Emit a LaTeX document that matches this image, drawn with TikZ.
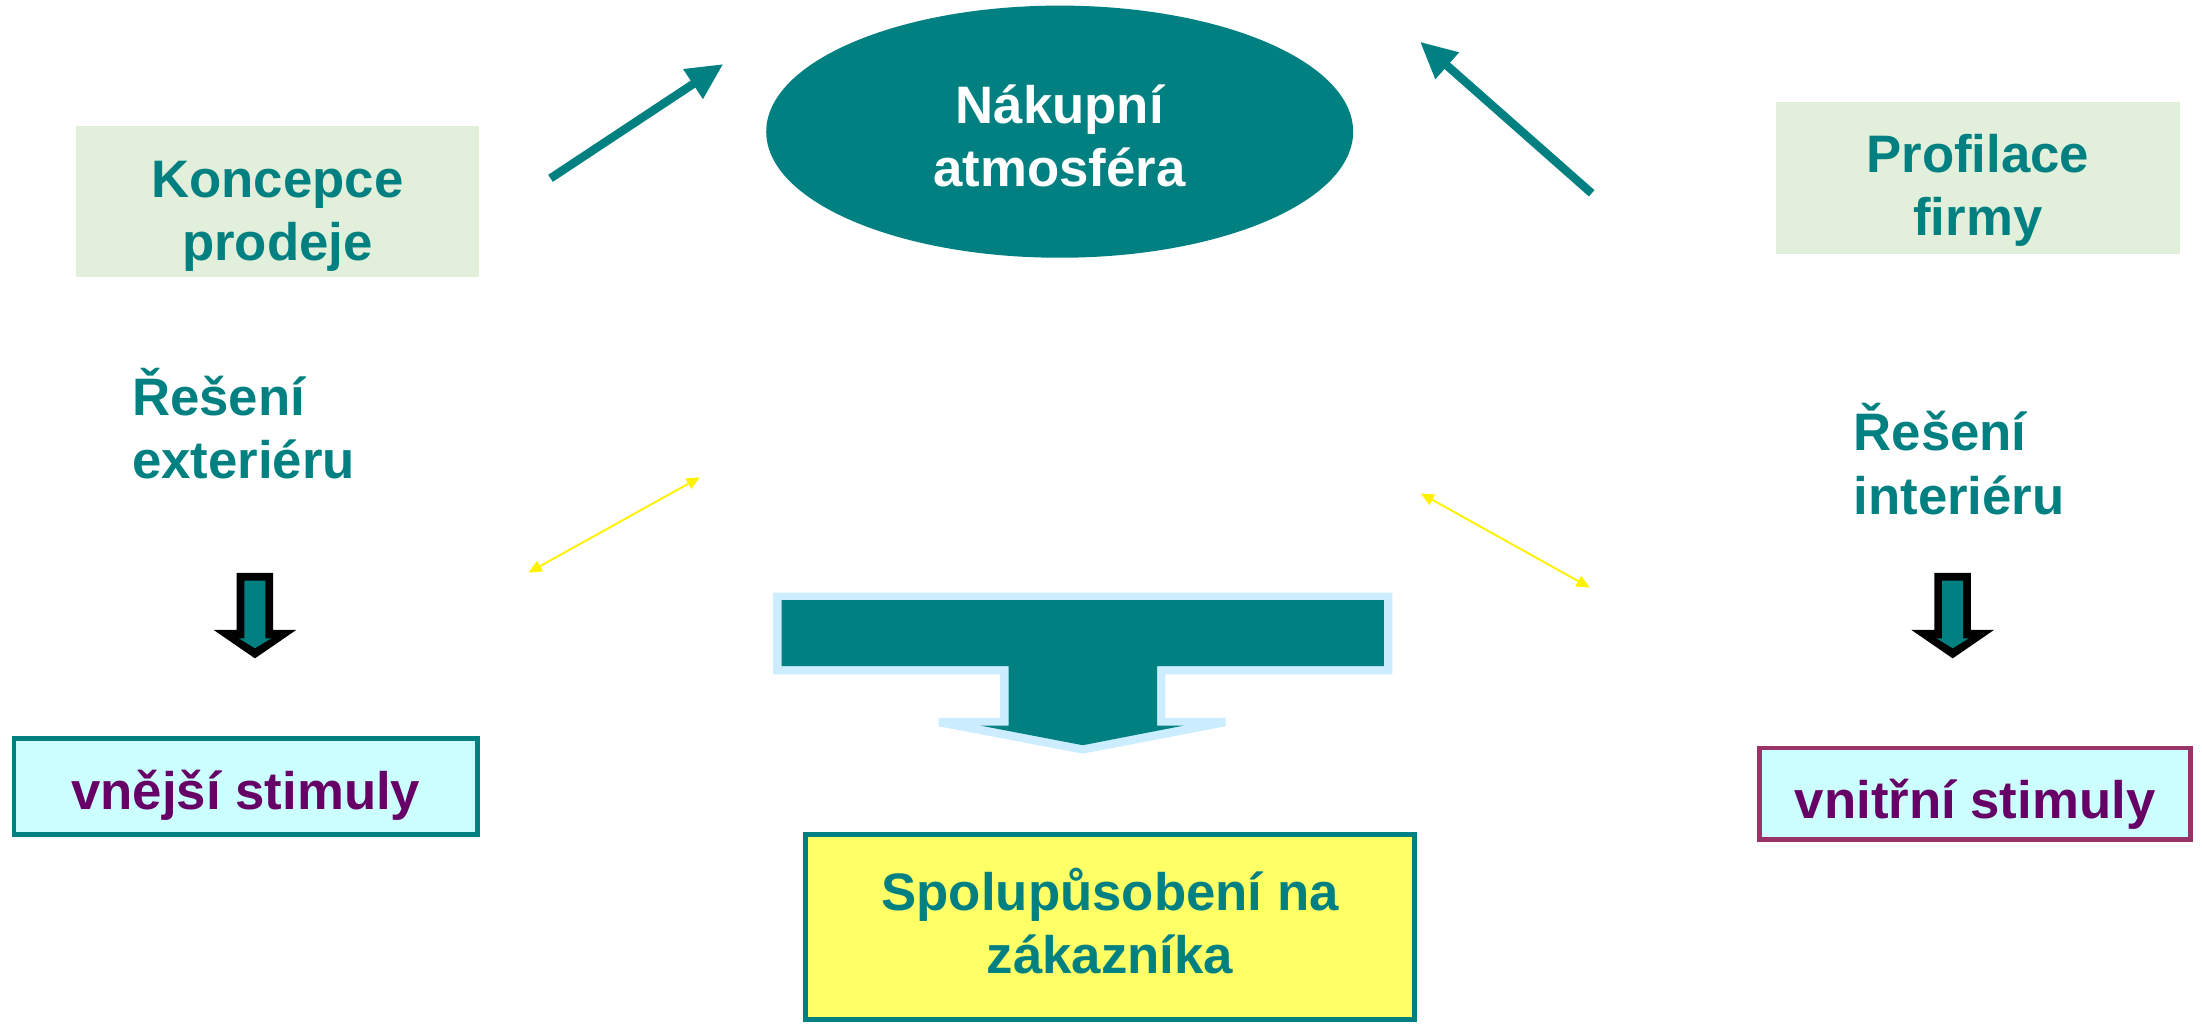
\documentclass[tikz,border=0pt]{standalone}
\usepackage{fontspec}
\setmainfont{Liberation Sans}
\usetikzlibrary{arrows.meta,shapes.geometric}
\definecolor{seagreen}{RGB}{0,128,128}
\definecolor{sage}{RGB}{226,239,218}
\definecolor{ice}{RGB}{204,255,255}
\definecolor{plum}{RGB}{102,0,102}
\definecolor{wine}{RGB}{153,51,102}
\definecolor{lemon}{RGB}{255,255,102}
\definecolor{sky}{RGB}{204,236,255}
\newcommand\U{0.028cm}
% block arrow pointing down, centred at x = #1
\newcommand\DownBlock[1]{%
  \fill[black] (#1-13,409) -- (#1+13,409) -- (#1+13,449.7) -- (#1+29.5,449.7)
    -- (#1,470) -- (#1-29.5,449.7) -- (#1-13,449.7) -- cycle;
  \fill[seagreen] (#1-7.5,414.5) -- (#1+7.5,414.5) -- (#1+7.5,455.7) -- (#1+11.5,455.7)
    -- (#1,462.8) -- (#1-11.5,455.7) -- (#1-7.5,455.7) -- cycle;}

\begin{document}
\begin{tikzpicture}[x=\U,y=-\U,inner sep=0pt,
                    font=\fontsize{30}{36}\selectfont\bfseries]

  \tikzstyle{every node}=[text=seagreen,align=center]
  \tikzstyle{topic}=[rectangle,fill=sage,minimum width=229.4pt,minimum height=86pt]
  \tikzstyle{stimulus}=[rectangle,fill=ice,line width=2.8pt,text=plum]
  \tikzstyle{push}=[line width=4.8pt,seagreen,-{Triangle[length=20.7pt,width=19pt]}]
  \tikzstyle{link}=[line width=1.1pt,yellow,{Triangle[length=7.6pt,width=6.6pt]}-{Triangle[length=7.6pt,width=6.6pt]}]

  \useasboundingbox (0,0) rectangle (1572,733);

  \node[topic,text height=70pt,text depth=2.8pt] (koncepce) at (198,144) {Koncepce\\prodeje};
  \node[topic,text height=68pt,text depth=2.4pt] (profilace) at (1412,127) {Profilace\\firmy};
  \node[ellipse,fill=seagreen,text=white,minimum width=333.8pt,minimum height=143.4pt,
        text height=64pt,text depth=1.5pt] (atmosfera) at (756.5,94) {Nákupní\\atmosféra};

  \node[anchor=base west,align=left] (exterier) at (94,341.5) {Řešení\\exteriéru};
  \node[anchor=base west,align=left] (interier) at (1323,367) {Řešení\\interiéru};

  \node[stimulus,draw=seagreen,minimum width=263.7pt,minimum height=55pt,
        text height=30pt,text depth=4pt] (vnejsi) at (175.5,561.5) {vnější stimuly};
  \node[stimulus,draw=wine,minimum width=245.4pt,minimum height=51.8pt,
        text height=31.9pt,text depth=4pt] (vnitrni) at (1410,566.5) {vnitřní stimuly};
  \node[rectangle,fill=lemon,draw=seagreen,line width=2.8pt,minimum width=346.5pt,
        minimum height=105.2pt,text height=55pt,text depth=2.1pt] (zakaznik) at (792.5,662)
        {Spolupůsobení na\\zákazníka};

  \coordinate (pL1) at (393,127.3);
  \coordinate (pL2) at (516.4,45.7);
  \coordinate (pR1) at (1136.3,138);
  \coordinate (pR2) at (1013.7,29.8);
  \coordinate (yL1) at (377.2,408.8);
  \coordinate (yL2) at (499.7,340.7);
  \coordinate (yR1) at (1014.2,352.2);
  \coordinate (yR2) at (1135,419.5);

  \path
  (pL1) edge [push] (pL2)
  (pR1) edge [push] (pR2)
  (yL1) edge [link] (yL2)
  (yR1) edge [link] (yR2)
  ;

  % joint effect arrow
  \fill[sky] (552,423) -- (994,423) -- (994,481.5) -- (832,481.5) -- (832,512.5)
    -- (875,512.5) -- (875,518.5) -- (773,538) -- (670,518.5) -- (670,512.5)
    -- (714,512.5) -- (714,481.5) -- (552,481.5) -- cycle;
  \fill[seagreen] (558,428.5) -- (988,428.5) -- (988,475.5) -- (826,475.5) -- (826,518)
    -- (845,518) -- (773,532) -- (700,518) -- (720,518) -- (720,475.5)
    -- (558,475.5) -- cycle;

  \DownBlock{182}
  \DownBlock{1394}
\end{tikzpicture}
\end{document}
